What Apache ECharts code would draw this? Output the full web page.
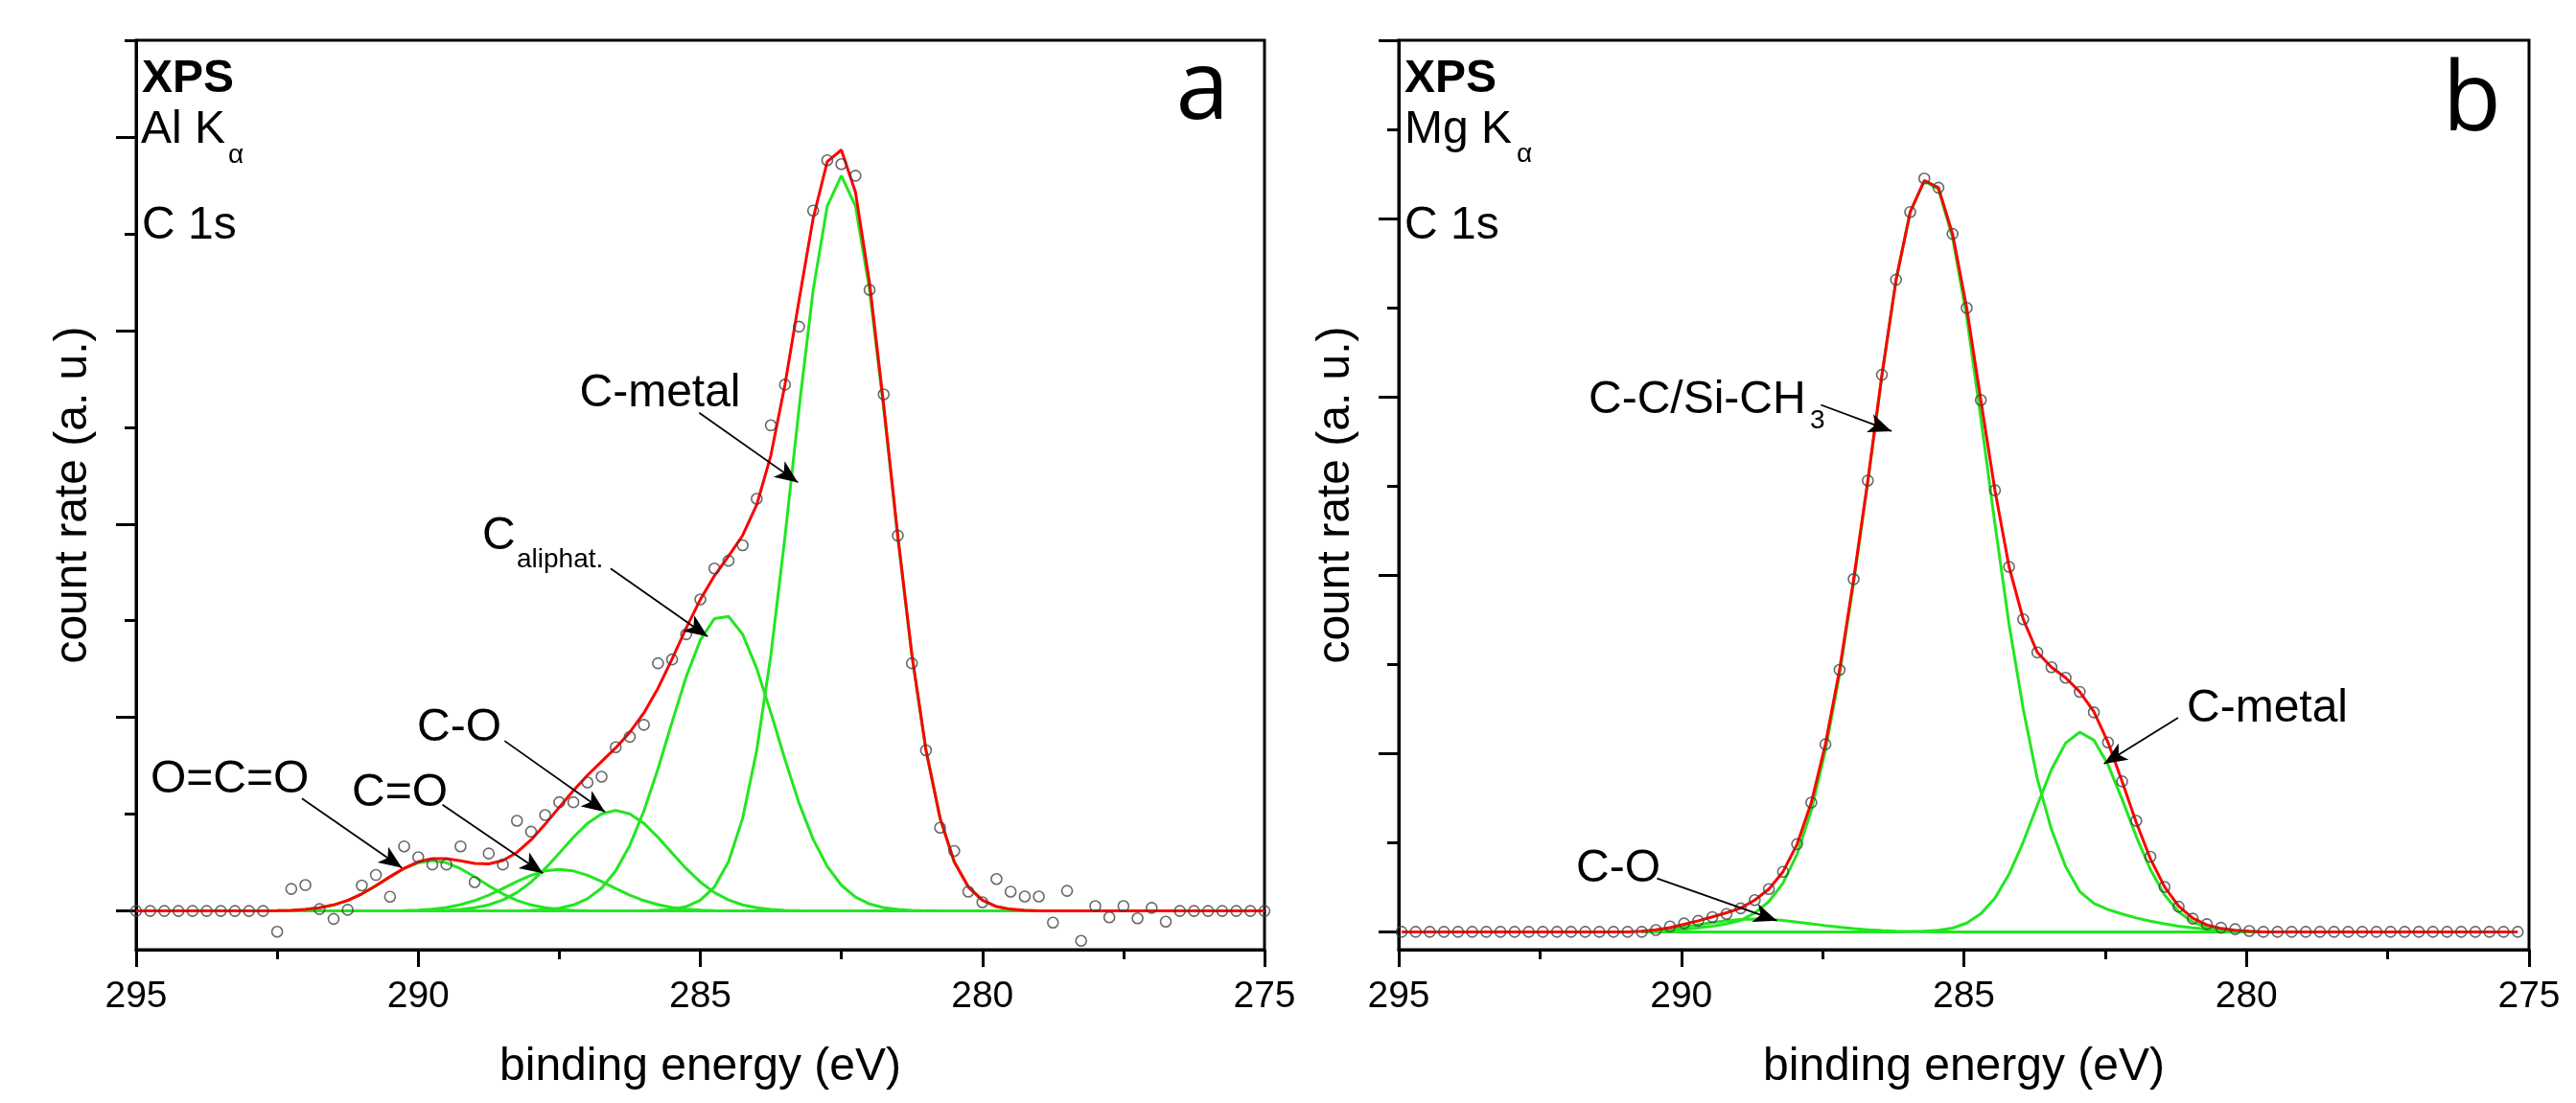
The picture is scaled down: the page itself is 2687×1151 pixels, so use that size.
<!DOCTYPE html>
<html>
<head>
<meta charset="utf-8">
<script src="https://cdn.jsdelivr.net/npm/echarts/dist/echarts.min.js"></script>
<style>
html,body{margin:0;padding:0;background:#fff;}
#chart{width:2687px;height:1151px;}
</style>
</head>
<body>
<div id="chart"></div>
<script>
// ---------------- Panel a (Al K-alpha) ----------------
const energyA = [295,294.75,294.5,294.25,294,293.75,293.5,293.25,293,292.75,292.5,292.25,292,291.75,291.5,291.25,291,290.75,290.5,290.25,290,289.75,289.5,289.25,289,288.75,288.5,288.25,288,287.75,287.5,287.25,287,286.75,286.5,286.25,286,285.75,285.5,285.25,285,284.75,284.5,284.25,284,283.75,283.5,283.25,283,282.75,282.5,282.25,282,281.75,281.5,281.25,281,280.75,280.5,280.25,280,279.75,279.5,279.25,279,278.75,278.5,278.25,278,277.75,277.5,277.25,277,276.75,276.5,276.25,276,275.75,275.5,275.25,275];
const countsA = [0,0,0,0,0,0,0,0,0,0,
  -0.107,0.114,0.134,0.01,-0.041,0.006,0.132,0.186,0.074,0.334,
  0.278,0.24,0.24,0.334,0.149,0.297,0.24,0.466,0.41,0.496,
  0.562,0.562,0.664,0.694,0.846,0.9,0.962,1.28,1.3,1.43,
  1.61,1.77,1.81,1.89,2.13,2.51,2.72,3.02,3.62,3.88,
  3.86,3.8,3.21,2.67,1.94,1.28,0.83,0.43,0.31,0.1,
  0.045,0.165,0.1,0.075,0.075,-0.06,0.104,-0.154,0.025,-0.033,
  0.025,-0.038,0.016,-0.055,0,0,0,0,0,0,0];
const N = null;
const ocoA = [N,N,N,N,N,N,N,N,N,
  0.0005,0.0014,0.0034,0.0078,0.0163,0.0312,0.0548,0.0882,0.1301,0.1762,0.2187,0.249,0.26,0.249,0.2187,0.1762,0.1301,0.0882,0.0548,0.0312,0.0163,0.0078,0.0034,0.0014,0.0005,
  0,0,0,0,0,0,0,0,0,0,0,0,0,0,0,0,0,0,0,0,0,0,0,0,0,0,0,0,0,0,0,0,0,
  N,N,N,N,N,N,N,N,N,N,N,N,N,N];
const cdoA = [N,N,N,N,N,N,N,N,N,
  0,0,0,0,0,0,0,0,
  0.0003,0.0008,0.002,0.0045,0.0094,0.0182,0.0325,0.0536,0.082,0.116,0.1519,0.1843,0.2069,0.215,0.2069,0.1843,0.1519,0.116,0.082,0.0536,0.0325,0.0182,0.0094,0.0045,0.002,0.0008,0.0003,
  0,0,0,0,0,0,0,0,0,0,0,0,0,0,0,0,0,0,0,0,0,0,0,
  N,N,N,N,N,N,N,N,N,N,N,N,N,N];
const coA = [N,N,N,N,N,N,N,N,N,
  0,0,0,0,0,0,0,0,0,0,0,
  0.0006,0.0015,0.0036,0.0079,0.0163,0.0315,0.0567,0.0953,0.1495,0.2188,0.2988,0.3808,0.4528,0.5023,0.52,0.5023,0.4528,0.3808,0.2988,0.2188,0.1495,0.0953,0.0567,0.0315,0.0163,0.0079,0.0036,0.0015,0.0006,
  0,0,0,0,0,0,0,0,0,0,0,0,0,0,0,0,0,0,
  N,N,N,N,N,N,N,N,N,N,N,N,N,N];
const calA = [N,N,N,N,N,N,N,N,N,
  0,0,0,0,0,0,0,0,0,0,0,0,0,0,0,0,0,0,
  0.0009,0.0025,0.0063,0.0145,0.0312,0.0629,0.118,0.207,0.339,0.517,0.735,0.977,1.211,1.4,1.511,1.522,1.43,1.253,1.025,0.783,0.557,0.37,0.23,0.133,0.0718,0.0362,0.017,0.0075,0.003,0.0012,
  0,0,0,0,0,0,0,0,0,0,
  N,N,N,N,N,N,N,N,N,N,N,N,N,N];
const cmA = [N,N,N,N,N,N,N,N,N,
  0,0,0,0,0,0,0,0,0,0,0,0,0,0,0,0,0,0,0,0,0,0,0,0,0,0,0,0,
  0.003,0.0087,0.0228,0.0555,0.124,0.254,0.479,0.83,1.321,1.933,2.598,3.209,3.643,3.8,3.643,3.209,2.598,1.933,1.321,0.83,0.479,0.254,0.124,0.0555,0.0228,0.0087,0.003,0.001,
  0,0,
  N,N,N,N,N,N,N,N,N,N,N,N,N,N];
const fitA = [0,0,0,0,0,0,0,0,0,
  0.0005,0.0014,0.0034,0.0078,0.0163,0.0312,0.0548,0.0882,0.1304,0.177,0.2207,0.2541,0.2709,0.2708,0.2591,0.2461,0.2436,0.2609,0.3029,0.3675,0.4483,0.5361,0.6223,0.7014,0.7727,0.843,0.9233,1.0234,1.1513,1.3027,1.462,1.6095,1.7323,1.8335,1.9408,2.0993,2.3539,2.7196,3.1565,3.5796,3.873,3.933,3.7148,3.2452,2.615,1.9405,1.324,0.8312,0.479,0.254,0.124,0.0555,0.0228,0.0087,0.003,0.001,0.0003,0,
  0,0,0,0,0,0,0,0,0,0,0,0,0,0];

// ---------------- Panel b (Mg K-alpha) ----------------
const energyB = [294.95,294.7,294.45,294.2,293.95,293.7,293.45,293.2,292.95,292.7,292.45,292.2,291.95,291.7,291.45,291.2,290.95,290.7,290.45,290.2,289.95,289.7,289.45,289.2,288.95,288.7,288.45,288.2,287.95,287.7,287.45,287.2,286.95,286.7,286.45,286.2,285.95,285.7,285.45,285.2,284.95,284.7,284.45,284.2,283.95,283.7,283.45,283.2,282.95,282.7,282.45,282.2,281.95,281.7,281.45,281.2,280.95,280.7,280.45,280.2,279.95,279.7,279.45,279.2,278.95,278.7,278.45,278.2,277.95,277.7,277.45,277.2,276.95,276.7,276.45,276.2,275.95,275.7,275.45,275.2];
const countsB = [0,0,0,0,0,0,0,0,0,0,0,0,0,0,0,0,0,0,
  0.01,0.03,0.047,0.062,0.083,0.1,0.132,0.178,0.24,0.337,0.492,0.725,1.052,1.469,1.978,2.531,3.124,3.657,4.037,4.225,4.173,3.914,3.499,2.982,2.476,2.047,1.753,1.567,1.484,1.425,1.346,1.231,1.062,0.844,0.623,0.421,0.252,0.141,0.074,0.043,0.023,0.015,0.005,
  0,0,0,0,0,0,0,0,0,0,0,0,0,0,0,0,0,0,0];
const coB = [N,N,N,N,N,N,N,N,N,N,N,N,N,N,N,N,N,
  0.002,0.007,0.016,0.028,0.04,0.052,0.062,0.069,0.072,0.07,0.064,0.055,0.045,0.035,0.026,0.018,0.012,0.007,0.004,0.002,0.001,
  0,0,0,0,0,0,0,0,0,0,0,0,0,0,0,0,0,0,0,0,0,0,0,0,
  N,N,N,N,N,N,N,N,N,N,N,N,N,N,N,N,N,N];
const mainB = [N,N,N,N,N,N,N,N,N,N,N,N,N,N,N,N,N,
  0.001,0.004,0.008,0.014,0.022,0.032,0.045,0.064,0.106,0.17,0.273,0.437,0.68,1.017,1.443,1.96,2.519,3.117,3.653,4.034,4.21,4.165,3.893,3.45,2.881,2.287,1.723,1.25,0.857,0.574,0.366,0.226,0.16,0.125,0.1,0.078,0.06,0.045,0.032,0.022,0.015,0.009,0.005,0.002,0,
  N,N,N,N,N,N,N,N,N,N,N,N,N,N,N,N,N,N];
const metalB = [N,N,N,N,N,N,N,N,N,N,N,N,N,N,N,N,N,
  0,0,0,0,0,0,0,0,0,0,0,0,0,0,0,0,0,0,0,
  0.001,0.003,0.0085,0.021,0.049,0.101,0.189,0.324,0.503,0.71,0.91,1.059,1.12,1.075,0.938,0.743,0.535,0.35,0.208,0.112,0.055,0.024,0.01,0.004,0.001,
  0,
  N,N,N,N,N,N,N,N,N,N,N,N,N,N,N,N,N,N];
const fitB = [0,0,0,0,0,0,0,0,0,0,0,0,0,0,0,0,0,
  0.003,0.011,0.024,0.042,0.062,0.084,0.107,0.133,0.178,0.24,0.337,0.492,0.725,1.052,1.469,1.978,2.531,3.124,3.657,4.037,4.214,4.1735,3.914,3.499,2.982,2.476,2.047,1.753,1.567,1.484,1.425,1.346,1.235,1.063,0.843,0.613,0.41,0.253,0.144,0.077,0.039,0.019,0.009,0.003,0,
  0,0,0,0,0,0,0,0,0,0,0,0,0,0,0,0,0,0];

// ticks / labels
const xTickValues = [295, 290, 285, 280, 275];
const yMajorA = [0,1,2,3,4];
const yMinorA = [0.5,1.5,2.5,3.5,4.5];
const yMajorB = [0,1,2,3,4,5];
const yMinorB = [0.5,1.5,2.5,3.5,4.5];

// ---------------- styling ----------------
const GREEN = '#22e622', RED = '#ff0000', DOT = '#444444';
const FONT = '"Liberation Sans", Arial, sans-serif';
const pairs = (xs, ys) => xs.map((x, i) => [x, ys[i] === null ? '-' : ys[i]]);

function xAxisCfg(gi){
  return {
    gridIndex: gi, type: 'value', min: 275, max: 295, interval: 5, inverse: true,
    axisLine: {onZero: false, lineStyle: {color: '#000', width: 3}},
    axisTick: {length: 18, lineStyle: {color: '#000', width: 3}},
    minorTick: {show: true, splitNumber: 2, length: 10, lineStyle: {color: '#000', width: 3}},
    splitLine: {show: false}, minorSplitLine: {show: false},
    axisLabel: {fontSize: 39, color: '#000', fontFamily: FONT, margin: 30,
      formatter: v => xTickValues.indexOf(v) >= 0 ? String(v) : ''},
    name: 'binding energy (eV)', nameLocation: 'middle', nameGap: 99,
    nameTextStyle: {fontSize: 48, color: '#000', fontFamily: FONT}
  };
}
function yAxisCfg(gi, min, max, ticks, len, main){
  return {
    gridIndex: gi, type: 'value', min: min, max: max, position: 'left', offset: 0,
    axisLine: {show: main, onZero: false, lineStyle: {color: '#000', width: 3}},
    axisTick: {show: true, length: len, customValues: ticks, lineStyle: {color: '#000', width: 3}},
    axisLabel: {show: false}, splitLine: {show: false},
    name: main ? 'count rate (a. u.)' : '', nameLocation: 'middle', nameGap: 41,
    nameTextStyle: {fontSize: 48, color: '#000', fontFamily: FONT}
  };
}
function greenLine(xi, xs, ys){
  return {type: 'line', xAxisIndex: xi, yAxisIndex: xi * 2, data: pairs(xs, ys), showSymbol: false,
    connectNulls: false, lineStyle: {color: GREEN, width: 3}, z: 2, silent: true};
}
function arrows(list){
  return {silent: true, symbol: ['none', 'arrow'], symbolSize: [15, 24], animation: false,
    lineStyle: {color: '#000', width: 1.8, type: 'solid'}, label: {show: false},
    emphasis: {disabled: true},
    data: list.map(a => [{coord: a[0]}, {coord: a[1]}])};
}

const arrowsA = [
  [[285.02, 2.575], [283.27, 2.215]],
  [[286.59, 1.770], [284.87, 1.418]],
  [[288.47, 0.879], [286.69, 0.512]],
  [[289.57, 0.549], [287.79, 0.195]],
  [[292.06, 0.581], [290.29, 0.223]]
];
const arrowsB = [
  [[287.53, 2.955], [286.28, 2.808]],
  [[281.21, 1.200], [282.52, 0.943]],
  [[290.43, 0.300], [288.31, 0.063]]
];

function txt(text, x, y, size, opts){
  opts = opts || {};
  return {type: 'text', silent: true, z: 50, style: {
    text: text, x: x, y: y,
    font: (opts.bold ? 'bold ' : '') + size + 'px ' + (opts.family || FONT),
    fill: '#000', textAlign: opts.align || 'left', textVerticalAlign: 'middle'}};
}

const chart = echarts.init(document.getElementById('chart'), null, {renderer: 'canvas'});
chart.setOption({
  animation: false,
  backgroundColor: '#fff',
  grid: [
    {left: 142, top: 42, width: 1177, height: 949, show: true, borderColor: '#000', borderWidth: 3},
    {left: 1459, top: 42, width: 1179, height: 949, show: true, borderColor: '#000', borderWidth: 3}
  ],
  xAxis: [xAxisCfg(0), xAxisCfg(1)],
  yAxis: [
    yAxisCfg(0, -0.2, 4.5, yMajorA, 21, true),
    yAxisCfg(0, -0.2, 4.5, yMinorA, 12, false),
    yAxisCfg(1, -0.1, 5.0, yMajorB, 21, true),
    yAxisCfg(1, -0.1, 5.0, yMinorB, 12, false)
  ],
  series: [
    greenLine(0, energyA, ocoA),
    greenLine(0, energyA, cdoA),
    greenLine(0, energyA, coA),
    greenLine(0, energyA, calA),
    greenLine(0, energyA, cmA),
    {type: 'line', xAxisIndex: 0, yAxisIndex: 0, data: pairs(energyA, fitA), showSymbol: false,
      lineStyle: {color: RED, width: 3}, z: 3, silent: true, markLine: arrows(arrowsA)},
    {type: 'scatter', xAxisIndex: 0, yAxisIndex: 0, data: pairs(energyA, countsA), symbol: 'circle', symbolSize: 11,
      itemStyle: {color: 'rgba(255,255,255,0)', borderColor: DOT, borderWidth: 1.6}, z: 4, silent: true},

    greenLine(1, energyB, coB),
    greenLine(1, energyB, mainB),
    greenLine(1, energyB, metalB),
    {type: 'line', xAxisIndex: 1, yAxisIndex: 2, data: pairs(energyB, fitB), showSymbol: false,
      lineStyle: {color: RED, width: 3}, z: 3, silent: true, markLine: arrows(arrowsB)},
    {type: 'scatter', xAxisIndex: 1, yAxisIndex: 2, data: pairs(energyB, countsB), symbol: 'circle', symbolSize: 11,
      itemStyle: {color: 'rgba(255,255,255,0)', borderColor: DOT, borderWidth: 1.6}, z: 4, silent: true}
  ],
  graphic: [
    // panel a corner texts
    txt('XPS', 148, 83, 48, {bold: true}),
    txt('Al K', 147, 136, 48),
    txt('α', 238, 162, 28),
    txt('C 1s', 148, 235.5, 48),
    txt('a', 1282, 96, 100, {align: 'right', family: '"Open Sans", sans-serif'}),
    // panel a annotations
    txt('O=C=O', 157, 814, 48),
    txt('C=O', 367, 828, 48),
    txt('C-O', 435, 759.5, 48),
    txt('C', 503, 560, 48),
    txt('aliphat.', 539, 584, 28),
    txt('C-metal', 604.5, 411, 48),
    // panel b corner texts
    txt('XPS', 1465, 83, 48, {bold: true}),
    txt('Mg K', 1465, 136, 48),
    txt('α', 1582, 161, 28),
    txt('C 1s', 1465, 235.5, 48),
    txt('b', 2609, 107.5, 100, {align: 'right', family: '"Open Sans", sans-serif'}),
    // panel b annotations
    txt('C-C/Si-CH', 1657, 418, 48),
    txt('3', 1888, 439.5, 28),
    txt('C-metal', 2281, 739.7, 48),
    txt('C-O', 1644, 907, 48)
  ]
});
</script>
</body>
</html>
